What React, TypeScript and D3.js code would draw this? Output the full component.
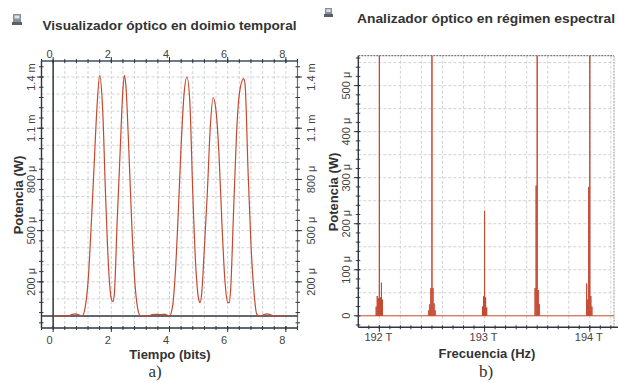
import React from 'react';
import * as d3 from 'd3';

// ---------- Left chart: time domain (bits vs mW) ----------
const timeBits = [0, 0.5, 0.6, 0.75, 0.9, 1.0, 1.1, 1.2, 1.3, 1.4, 1.5, 1.6, 1.7, 1.8, 1.9, 2.0, 2.05, 2.1, 2.2, 2.3, 2.4, 2.45, 2.5, 2.6, 2.7, 2.8, 2.9, 3.0, 3.3, 3.4, 3.55, 3.7, 3.85, 4.0, 4.1, 4.2, 4.3, 4.4, 4.5, 4.6, 4.7, 4.8, 4.9, 5.0, 5.05, 5.1, 5.2, 5.3, 5.4, 5.5, 5.6, 5.7, 5.8, 5.9, 6.0, 6.05, 6.1, 6.2, 6.3, 6.4, 6.55, 6.6, 6.7, 6.8, 6.9, 7.0, 7.1, 7.25, 7.35, 7.5, 7.6, 8.0];
const timePower = [0, 0, 0.005, 0.012, 0.005, 0, 0.05, 0.2, 0.5, 0.85, 1.2, 1.41, 1.22, 0.72, 0.3, 0.1, 0.084, 0.12, 0.55, 0.95, 1.33, 1.41, 1.35, 0.98, 0.55, 0.22, 0.05, 0, 0, 0.008, 0.01, 0.008, 0.01, 0, 0.05, 0.25, 0.6, 1.0, 1.3, 1.4, 1.25, 0.72, 0.3, 0.1, 0.078, 0.12, 0.4, 0.72, 1.1, 1.28, 1.2, 0.95, 0.55, 0.22, 0.08, 0.078, 0.15, 0.6, 1.05, 1.3, 1.39, 1.35, 0.85, 0.42, 0.15, 0.01, 0, 0.008, 0.012, 0.005, 0, 0];
const leftXTicks = [0, 2, 4, 6, 8];
const leftYTicks = [0.2, 0.5, 0.8, 1.1, 1.4];
const leftYTickLabels = ['200 μ', '500 μ', '800 μ', '1.1 m', '1.4 m'];

// ---------- Right chart: spectrum (THz vs μW) ----------
const specFreq = [
  191.97, 191.98, 191.99, 192.0, 192.01, 192.02, 192.03,
  192.47, 192.48, 192.49, 192.5, 192.51, 192.52, 192.53,
  192.98, 192.99, 193.0, 193.01, 193.02,
  193.48, 193.49, 193.5, 193.51, 193.52,
  193.97, 193.98, 193.99, 194.0, 194.01, 194.02,
];
const specPower = [
  20, 43, 38, 900, 40, 72, 35,
  12, 25, 60, 900, 60, 27, 12,
  20, 42, 228, 40, 18,
  60, 283, 900, 56, 25,
  70, 35, 280, 900, 43, 20,
];
const rightXTicks = [192, 193, 194];
const rightXTickLabels = ['192 T', '193 T', '194 T'];
const rightYTicks = [0, 100, 200, 300, 400, 500];
const rightYTickLabels = ['0', '100 μ', '200 μ', '300 μ', '400 μ', '500 μ'];

const RED = '#c4492f';
const AXIS = '#2f3640';
const GRID = '#c4c8cc';
const TXT = '#444';
const FONT = 'Liberation Sans, Arial, sans-serif';

export default function App() {
  // left chart geometry
  const L = { x0: 41.5, x1: 297.5, y0: 61, y1: 328 };
  const lx = d3.scaleLinear().domain([-0.4, 8.4]).range([L.x0, L.x1]);
  const ly = d3.scaleLinear().domain([-0.0703, 1.4938]).range([L.y1, L.y0]);
  const leftPts = timeBits.map((t, i) => [t, timePower[i]] as [number, number]);
  const leftLine = d3.line<[number, number]>().x(d => lx(d[0])).y(d => ly(d[1])).curve(d3.curveMonotoneX)(leftPts) || '';

  // right chart geometry
  const R = { x0: 358.3, x1: 614, y0: 55.7, y1: 327.3 };
  const rx = d3.scaleLinear().domain([191.8, 194.23]).range([R.x0, R.x1]);
  const ry = d3.scaleLinear().domain([-25, 565]).range([R.y1, R.y0]);
  const stemPts: [number, number][] = [[191.8, 0]];
  specFreq.forEach((f, i) => { stemPts.push([f, 0], [f, specPower[i]], [f, 0]); });
  stemPts.push([194.23, 0]);
  const rightLine = d3.line<[number, number]>().x(d => rx(d[0])).y(d => ry(d[1]))(stemPts) || '';

  const lGridH = d3.range(1, 15).map(k => k / 10);
  const lGridV = d3.range(1, 21).map(k => k * 0.4);
  const lMinorX = d3.range(-1, 22).map(k => k * 0.4);
  const lMinorY = d3.range(-1, 25).map(k => 0.2 + (k - 3) * 0.06).filter(v => v > -0.07 && v < 1.49);

  const rGridH = d3.range(1, 12).map(k => k * 50);
  const rGridV = d3.range(0, 12).map(k => 192 + k * 0.2);
  const rMinorX = d3.range(-2, 23).map(k => 192 + k * 0.1).filter(v => v > 191.8 && v < 194.23);
  const rMinorY = d3.range(-1, 29).map(k => k * 20);

  return (
    <svg width={619} height={382} style={{ position: 'absolute', left: 0, top: 0, background: '#fff' }} fontFamily={FONT}>
      <rect width={619} height={382} fill="#fff" />
      <defs>
        <clipPath id="clipL"><rect x={L.x0} y={L.y0} width={L.x1 - L.x0} height={L.y1 - L.y0} /></clipPath>
        <clipPath id="clipR"><rect x={R.x0} y={R.y0} width={R.x1 - R.x0} height={R.y1 - R.y0} /></clipPath>
      </defs>

      {/* ---------------- LEFT ---------------- */}
      <g>
        <rect x={13} y={14} width={8} height={10} fill="#8a9098" />
        <rect x={14.5} y={15.5} width={5} height={3} fill="#dfe3e8" />
        <rect x={12} y={22} width={10} height={3} fill="#5a6068" />
        <text x={42.5} y={29.5} fontSize={13.5} fontWeight="bold" fill="#333" textLength={254} lengthAdjust="spacingAndGlyphs">Visualizador óptico en doimio temporal</text>

        {lGridH.map(v => <line key={'lgh' + v} x1={L.x0} x2={L.x1} y1={ly(v)} y2={ly(v)} stroke={GRID} strokeWidth={0.8} strokeDasharray="3,2" />)}
        {lGridV.map(v => <line key={'lgv' + v} x1={lx(v)} x2={lx(v)} y1={L.y0} y2={L.y1} stroke={GRID} strokeWidth={0.8} strokeDasharray="3,2" />)}

        {/* frame */}
        <line x1={L.x0} x2={L.x1} y1={L.y0} y2={L.y0} stroke="#3d4f63" strokeWidth={1.4} />
        <line x1={L.x0} x2={L.x1} y1={L.y1} y2={L.y1} stroke={AXIS} strokeWidth={1.4} />
        <line x1={L.x0} x2={L.x0} y1={L.y0} y2={L.y1} stroke={AXIS} strokeWidth={1.4} />
        <line x1={L.x1} x2={L.x1} y1={L.y0} y2={L.y1} stroke="#6a7078" strokeWidth={1.2} />
        {/* zero lines */}
        <line x1={lx(0)} x2={lx(0)} y1={L.y0} y2={L.y1} stroke={AXIS} strokeWidth={1.5} />
        <line x1={L.x0} x2={L.x1} y1={ly(0)} y2={ly(0)} stroke={AXIS} strokeWidth={1.5} />

        {/* ticks */}
        {lMinorX.map(v => (
          <g key={'lmx' + v}>
            <line x1={lx(v)} x2={lx(v)} y1={L.y0 - 2} y2={L.y0 + 2} stroke={AXIS} strokeWidth={1} />
            <line x1={lx(v)} x2={lx(v)} y1={L.y1 - 2} y2={L.y1 + 2} stroke={AXIS} strokeWidth={1} />
          </g>
        ))}
        {leftXTicks.map(v => (
          <g key={'lmjx' + v}>
            <line x1={lx(v)} x2={lx(v)} y1={L.y0 - 4} y2={L.y0 + 2} stroke={AXIS} strokeWidth={1} />
            <line x1={lx(v)} x2={lx(v)} y1={L.y1 - 2} y2={L.y1 + 4} stroke={AXIS} strokeWidth={1} />
            <text x={lx(v) - 3.5} y={58} fontSize={11} fill={TXT} textAnchor="middle">{v}</text>
            <text x={lx(v) - 3.5} y={344} fontSize={11} fill={TXT} textAnchor="middle">{v}</text>
          </g>
        ))}
        {lMinorY.map(v => (
          <g key={'lmy' + v}>
            <line x1={L.x0 - 2.5} x2={L.x0 + 2} y1={ly(v)} y2={ly(v)} stroke={AXIS} strokeWidth={1} />
            <line x1={L.x1 - 2} x2={L.x1 + 2.5} y1={ly(v)} y2={ly(v)} stroke={AXIS} strokeWidth={1} />
          </g>
        ))}
        {leftYTicks.map((v, i) => (
          <g key={'lmjy' + v}>
            <line x1={L.x0 - 4.5} x2={L.x0 + 2} y1={ly(v)} y2={ly(v)} stroke={AXIS} strokeWidth={1} />
            <line x1={L.x1 - 2} x2={L.x1 + 4.5} y1={ly(v)} y2={ly(v)} stroke={AXIS} strokeWidth={1} />
            <text transform={`translate(35,${ly(v)}) rotate(-90)`} fontSize={11} fill={TXT} textAnchor="middle">{leftYTickLabels[i]}</text>
            <text transform={`translate(315,${ly(v)}) rotate(-90)`} fontSize={11} fill={TXT} textAnchor="middle">{leftYTickLabels[i]}</text>
          </g>
        ))}

        <path d={leftLine} fill="none" stroke={RED} strokeWidth={1.2} clipPath="url(#clipL)" />

        <text transform="translate(23,195) rotate(-90)" fontSize={13} fontWeight="bold" fill="#333" textAnchor="middle">Potencia (W)</text>
        <text x={170} y={359} fontSize={13} fontWeight="bold" fill="#333" textAnchor="middle">Tiempo (bits)</text>
        <text x={155} y={377} fontSize={17} fill="#333" fontFamily="Liberation Serif, serif" textAnchor="middle">a)</text>
      </g>

      {/* ---------------- RIGHT ---------------- */}
      <g>
        <rect x={325} y={8} width={7} height={8} fill="#8a9098" />
        <rect x={326.3} y={9.3} width={4.4} height={2.6} fill="#dfe3e8" />
        <rect x={324} y={14} width={9} height={3} fill="#5a6068" />
        <text x={357} y={23} fontSize={13.5} fontWeight="bold" fill="#333" textLength={258} lengthAdjust="spacingAndGlyphs">Analizador óptico en régimen espectral</text>

        {rGridH.map(v => <line key={'rgh' + v} x1={R.x0} x2={R.x1} y1={ry(v)} y2={ry(v)} stroke={GRID} strokeWidth={0.8} strokeDasharray="3,2" />)}
        {rGridV.map(v => <line key={'rgv' + v} x1={rx(v)} x2={rx(v)} y1={R.y0} y2={R.y1} stroke={GRID} strokeWidth={0.8} strokeDasharray="3,2" />)}

        <line x1={R.x0} x2={R.x1} y1={R.y0} y2={R.y0} stroke="#777" strokeWidth={1.2} strokeDasharray="2,1" />
        <line x1={R.x1} x2={R.x1} y1={R.y0} y2={R.y1} stroke="#999" strokeWidth={1} strokeDasharray="2,1" />
        <line x1={R.x0} x2={R.x1 + 4} y1={R.y1} y2={R.y1} stroke={AXIS} strokeWidth={1.4} />
        <line x1={R.x0} x2={R.x0} y1={R.y0} y2={R.y1} stroke={AXIS} strokeWidth={1.4} />

        {rMinorX.map(v => (
          <line key={'rmx' + v} x1={rx(v)} x2={rx(v)} y1={R.y1 - 2} y2={R.y1 + 2} stroke={AXIS} strokeWidth={1} />
        ))}
        {rightXTicks.map((v, i) => (
          <g key={'rmjx' + v}>
            <line x1={rx(v)} x2={rx(v)} y1={R.y1 - 2} y2={R.y1 + 4.5} stroke={AXIS} strokeWidth={1} />
            <text x={rx(v) - 1} y={341} fontSize={11} fill={TXT} textAnchor="middle">{rightXTickLabels[i]}</text>
          </g>
        ))}
        {rMinorY.filter(v => v > -25 && v < 565).map(v => (
          <line key={'rmy' + v} x1={R.x0 - 2.5} x2={R.x0 + 2} y1={ry(v)} y2={ry(v)} stroke={AXIS} strokeWidth={1} />
        ))}
        {rightYTicks.map((v, i) => (
          <g key={'rmjy' + v}>
            <line x1={R.x0 - 4.5} x2={R.x0 + 2} y1={ry(v)} y2={ry(v)} stroke={AXIS} strokeWidth={1} />
            <text transform={`translate(350,${ry(v)}) rotate(-90)`} fontSize={11} fill={TXT} textAnchor="middle">{rightYTickLabels[i]}</text>
          </g>
        ))}

        <path d={rightLine} fill="none" stroke={RED} strokeWidth={1} clipPath="url(#clipR)" />

        <text transform="translate(338,192) rotate(-90)" fontSize={13} fontWeight="bold" fill="#333" textAnchor="middle">Potencia (W)</text>
        <text x={487} y={358} fontSize={13} fontWeight="bold" fill="#333" textAnchor="middle">Frecuencia (Hz)</text>
        <text x={486} y={377} fontSize={17} fill="#333" fontFamily="Liberation Serif, serif" textAnchor="middle">b)</text>
      </g>
    </svg>
  );
}
